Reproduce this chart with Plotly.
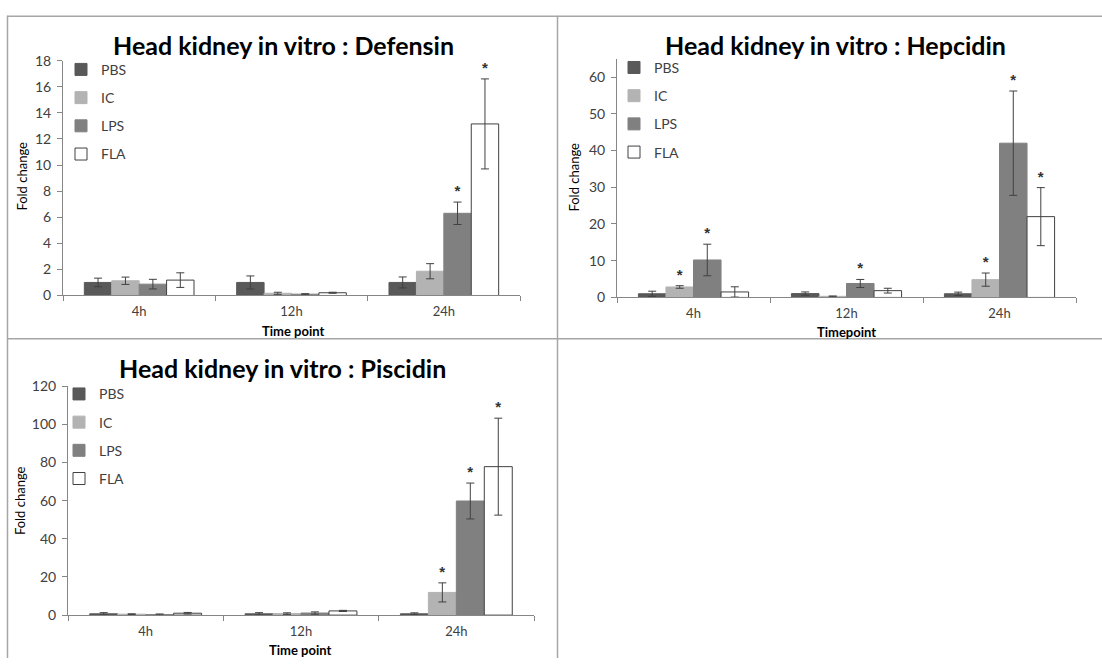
import plotly.graph_objects as go

# ---------------- data ----------------
timepoints = ["4h", "12h", "24h"]
treatments = ["PBS", "IC", "LPS", "FLA"]

# rows follow `treatments`, columns follow `timepoints`
defensin_mean = [[1.0, 1.0, 1.0], [1.13, 0.17, 1.86], [0.87, 0.10, 6.3], [1.18, 0.21, 13.15]]
defensin_err = [[0.33, 0.5, 0.42], [0.28, 0.08, 0.58], [0.37, 0.04, 0.86], [0.56, 0.04, 3.45]]
defensin_star = [[0, 0, 0], [0, 0, 0], [0, 0, 1], [0, 0, 1]]

hepcidin_mean = [[1.0, 1.05, 1.0], [2.85, 0.3, 4.85], [10.2, 3.8, 42.0], [1.5, 1.85, 22.0]]
hepcidin_err = [[0.7, 0.45, 0.45], [0.35, 0.1, 1.8], [4.3, 1.1, 14.2], [1.4, 0.65, 7.9]]
hepcidin_star = [[0, 0, 0], [1, 0, 1], [1, 1, 1], [0, 0, 1]]

piscidin_mean = [[0.7, 0.7, 0.7], [0.5, 0.8, 11.9], [0.3, 1.1, 59.8], [1.0, 2.2, 77.8]]
piscidin_err = [[0.6, 0.6, 0.5], [0.2, 0.4, 5.0], [0.3, 0.6, 9.4], [0.4, 0.3, 25.4]]
piscidin_star = [[0, 0, 0], [0, 0, 1], [0, 0, 1], [0, 0, 1]]

# ---------------- style ----------------
W, H = 1102, 666
FONT = "Lato, 'Open Sans', sans-serif"
TXT = "#404040"
AX = "#868686"
fills = {"PBS": "#595959", "IC": "#b3b3b3", "LPS": "#808080", "FLA": "#ffffff"}
edges = {"PBS": "#595959", "IC": "#b3b3b3", "LPS": "#808080", "FLA": "#404040"}


def px_x(p):
    return p / W


def px_y(p):
    return 1 - p / H


panels = [
    dict(title="Head kidney in vitro : Defensin", mean=defensin_mean, err=defensin_err, star=defensin_star,
         xa="x", ya="y", lg="legend", xdom=(63, 520), ydom=(294, 53), yrange=(0, 18), dtick=2,
         title_xy=(283, 37), xt="Time point", xt_xy=(293, 330), yt_xy=(22, 172), leg_xy=(61, 46)),
    dict(title="Head kidney in vitro : Hepcidin", mean=hepcidin_mean, err=hepcidin_err, star=hepcidin_star,
         xa="x2", ya="y2", lg="legend2", xdom=(617, 1076), ydom=(296, 51), yrange=(0, 65), dtick=10,
         title_xy=(835, 37), xt="Timepoint", xt_xy=(846, 331), yt_xy=(574, 173), leg_xy=(614, 44)),
    dict(title="Head kidney in vitro : Piscidin", mean=piscidin_mean, err=piscidin_err, star=piscidin_star,
         xa="x3", ya="y3", lg="legend3", xdom=(68, 534), ydom=(622, 387), yrange=(0, 120), dtick=20,
         title_xy=(282, 368), xt="Time point", xt_xy=(300, 658), yt_xy=(20, 505), leg_xy=(59, 379)),
]

fig = go.Figure()
annotations = []
layout_axes = {}
star_font = dict(family="'Liberation Sans', Arial, sans-serif", size=15, color="#333333")

for pi, p in enumerate(panels):
    for i, t in enumerate(treatments):
        fig.add_trace(go.Bar(
            x=timepoints, y=p["mean"][i], name=t,
            marker=dict(color=fills[t], line=dict(color=edges[t], width=1)),
            error_y=dict(type="data", array=p["err"][i], color=TXT, thickness=1, width=4),
            offsetgroup=t, legendgroup=f"{t}{pi}", legend=p["lg"],
            xaxis=p["xa"], yaxis=p["ya"],
        ))
        # significance marks sitting above the error bars
        fig.add_trace(go.Bar(
            x=timepoints,
            y=[m + e if s else None for m, e, s in zip(p["mean"][i], p["err"][i], p["star"][i])],
            text=["<b>*</b>" if s else "" for s in p["star"][i]],
            textposition="outside", cliponaxis=False,
            textfont=star_font, outsidetextfont=star_font,
            marker=dict(color="rgba(0,0,0,0)", line=dict(width=0)),
            offsetgroup=t, showlegend=False, hoverinfo="skip",
            xaxis=p["xa"], yaxis=p["ya"],
        ))

    xkey = "xaxis" if p["xa"] == "x" else "xaxis" + p["xa"][1:]
    ykey = "yaxis" if p["ya"] == "y" else "yaxis" + p["ya"][1:]
    layout_axes[xkey] = dict(
        domain=[px_x(p["xdom"][0]), px_x(p["xdom"][1])], anchor=p["ya"], type="category",
        showline=True, linecolor=AX, linewidth=1, ticks="outside", tickson="boundaries",
        ticklen=5, tickcolor=AX, showgrid=False, ticklabelstandoff=4,
        tickfont=dict(family=FONT, size=13, color=TXT),
    )
    layout_axes[ykey] = dict(
        domain=[px_y(p["ydom"][0]), px_y(p["ydom"][1])], anchor=p["xa"], range=list(p["yrange"]),
        dtick=p["dtick"], showline=True, linecolor=AX, linewidth=1, ticks="outside", ticklen=5,
        tickcolor=AX, showgrid=False, zeroline=False, ticklabelstandoff=3,
        tickfont=dict(family=FONT, size=14, color=TXT),
    )
    layout_axes[p["lg"]] = dict(
        x=px_x(p["leg_xy"][0]), y=px_y(p["leg_xy"][1]), xanchor="left", yanchor="top",
        bgcolor="rgba(0,0,0,0)", font=dict(family=FONT, size=14, color=TXT),
        traceorder="grouped", tracegroupgap=7,
    )
    annotations.append(dict(text=f"<b>{p['title']}</b>", x=px_x(p["title_xy"][0]), y=px_y(p["title_xy"][1]),
                            xref="paper", yref="paper", showarrow=False, xanchor="center", yanchor="middle",
                            font=dict(family=FONT, size=25, color="#000000")))
    annotations.append(dict(text=f"<b>{p['xt']}</b>", x=px_x(p["xt_xy"][0]), y=px_y(p["xt_xy"][1]),
                            xref="paper", yref="paper", showarrow=False, xanchor="center", yanchor="middle",
                            font=dict(family=FONT, size=13, color="#000000")))
    annotations.append(dict(text="Fold change", x=px_x(p["yt_xy"][0]), y=px_y(p["yt_xy"][1]), textangle=-90,
                            xref="paper", yref="paper", showarrow=False, xanchor="center", yanchor="middle",
                            font=dict(family=FONT, size=13, color="#000000")))

# panel frames
BORDER = "#a6a6a6"
shapes = [
    dict(type="line", xref="paper", yref="paper", x0=px_x(7), x1=1, y0=px_y(7.5), y1=px_y(7.5)),
    dict(type="line", xref="paper", yref="paper", x0=px_x(7), x1=1, y0=px_y(338.5), y1=px_y(338.5)),
    dict(type="line", xref="paper", yref="paper", x0=px_x(7.5), x1=px_x(7.5), y0=px_y(7), y1=0),
    dict(type="line", xref="paper", yref="paper", x0=px_x(557.5), x1=px_x(557.5), y0=px_y(7), y1=0),
]
for s in shapes:
    s["line"] = dict(color=BORDER, width=1.5)

fig.update_layout(
    width=W, height=H, margin=dict(l=0, r=0, t=0, b=0),
    paper_bgcolor="white", plot_bgcolor="white",
    barmode="group", bargap=0.28, bargroupgap=0,
    annotations=annotations, shapes=shapes,
    font=dict(family=FONT, color=TXT),
    **layout_axes,
)

fig.write_html("out.html")
